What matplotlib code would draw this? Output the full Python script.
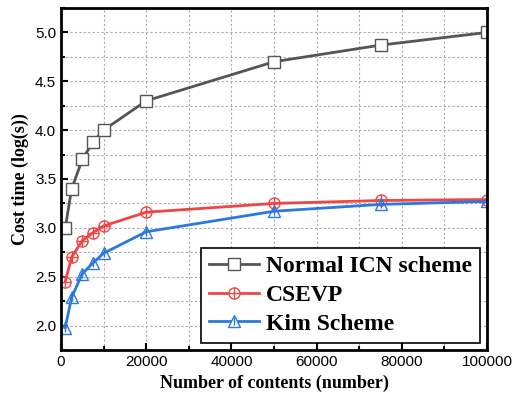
import matplotlib
matplotlib.use("Agg")
import matplotlib.pyplot as plt
from matplotlib.ticker import MultipleLocator, FormatStrFormatter
from matplotlib.lines import Line2D

contents = [1000, 2500, 5000, 7500, 10000, 20000, 50000, 75000, 100000]
normal_icn = [3.00, 3.40, 3.70, 3.88, 4.00, 4.30, 4.70, 4.87, 5.00]
csevp = [2.45, 2.70, 2.87, 2.95, 3.02, 3.16, 3.25, 3.28, 3.29]
kim = [1.98, 2.29, 2.53, 2.64, 2.74, 2.96, 3.17, 3.24, 3.27]

labels = ["Normal ICN scheme", "CSEVP", "Kim Scheme"]
gray, red, blue = "#555555", "#f04545", "#2a78e0"

fig = plt.figure(figsize=(5.16, 4.05), dpi=100)
ax = fig.add_axes([61 / 516, 55 / 405, 426 / 516, 342 / 405])

ms = 8
ax.plot(contents, normal_icn, color=gray, lw=2, marker="s", markersize=ms,
        markerfacecolor="white", markeredgecolor=gray, markeredgewidth=1)
ax.plot(contents, csevp, color=red, lw=2, marker="o", markersize=ms,
        markerfacecolor="none", markeredgecolor=red, markeredgewidth=1)
ax.plot(contents, csevp, ls="none", marker="+", markersize=ms, color=red, markeredgewidth=1)
ax.plot(contents, kim, color=blue, lw=2, marker="^", markersize=ms,
        markerfacecolor="none", markeredgecolor=blue, markeredgewidth=1)
ax.plot(contents, kim, ls="none", marker="|", markersize=6, color=blue, markeredgewidth=1)

ax.set_xlim(0, 100000)
ax.set_ylim(1.75, 5.25)
ax.xaxis.set_major_locator(MultipleLocator(20000))
ax.xaxis.set_minor_locator(MultipleLocator(10000))
ax.yaxis.set_major_locator(MultipleLocator(0.5))
ax.yaxis.set_minor_locator(MultipleLocator(0.25))
ax.yaxis.set_major_formatter(FormatStrFormatter("%.1f"))
ax.grid(which="both", ls=(0, (2, 2)), color="#aaaaaa", lw=0.8)
ax.set_axisbelow(True)

ax.tick_params(which="both", direction="in", top=False, right=False, width=1.5)
ax.tick_params(which="major", length=5)
ax.tick_params(which="minor", length=3)
for lbl in ax.get_xticklabels() + ax.get_yticklabels():
    lbl.set_fontfamily("Liberation Sans")
    lbl.set_fontsize(11)
for sp in ax.spines.values():
    sp.set_linewidth(2)

ax.set_xlabel("Number of contents (number)", fontfamily="Liberation Serif",
              fontweight="bold", fontsize=13)
ax.set_ylabel("Cost time (log(s))", fontfamily="Liberation Serif",
              fontweight="bold", fontsize=13)

handles = [
    Line2D([], [], color=gray, lw=2, marker="s", markersize=ms,
           markerfacecolor="white", markeredgecolor=gray),
    (Line2D([], [], color=red, lw=2, marker="o", markersize=ms,
            markerfacecolor="white", markeredgecolor=red),
     Line2D([], [], ls="none", marker="+", markersize=ms, color=red)),
    (Line2D([], [], color=blue, lw=2, marker="^", markersize=ms,
            markerfacecolor="white", markeredgecolor=blue),
     Line2D([], [], ls="none", marker="|", markersize=6, color=blue)),
]
leg = ax.legend(handles, labels, loc="lower right",
                prop={"family": "Liberation Serif", "weight": "bold", "size": 17},
                fancybox=False, edgecolor="black", framealpha=1,
                handlelength=2.1, handletextpad=0.3, borderpad=0.35,
                labelspacing=0.3, borderaxespad=0.3)
leg.get_frame().set_linewidth(1.2)

fig.savefig("out.png", dpi=100)
